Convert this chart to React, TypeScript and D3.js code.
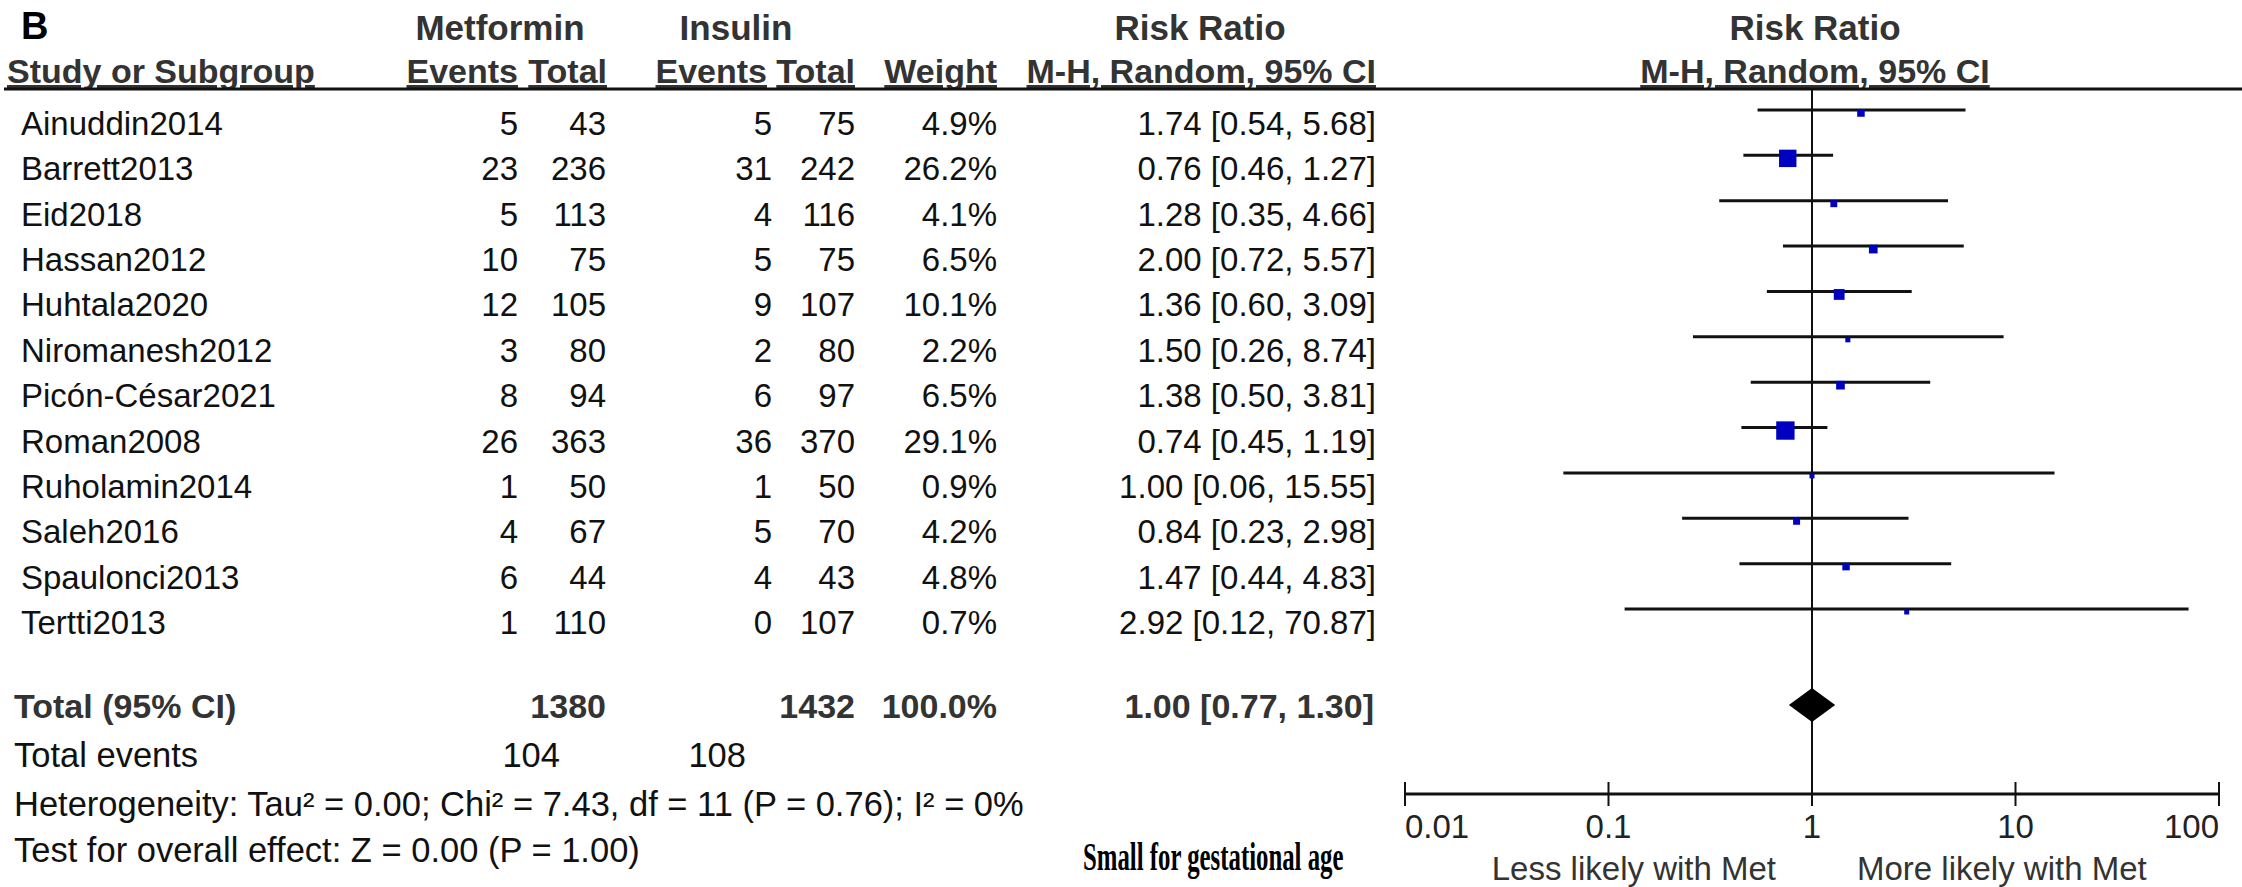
import React from "react";
import * as d3 from "d3";

const studies = ["Ainuddin2014","Barrett2013","Eid2018","Hassan2012","Huhtala2020","Niromanesh2012","Picón-César2021","Roman2008","Ruholamin2014","Saleh2016","Spaulonci2013","Tertti2013"];
const metEvents = [5,23,5,10,12,3,8,26,1,4,6,1];
const metTotal = [43,236,113,75,105,80,94,363,50,67,44,110];
const insEvents = [5,31,4,5,9,2,6,36,1,5,4,0];
const insTotal = [75,242,116,75,107,80,97,370,50,70,43,107];
const weights = [4.9,26.2,4.1,6.5,10.1,2.2,6.5,29.1,0.9,4.2,4.8,0.7];
const rr = [1.74,0.76,1.28,2.0,1.36,1.5,1.38,0.74,1.0,0.84,1.47,2.92];
const lower = [0.54,0.46,0.35,0.72,0.6,0.26,0.5,0.45,0.06,0.23,0.44,0.12];
const upper = [5.68,1.27,4.66,5.57,3.09,8.74,3.81,1.19,15.55,2.98,4.83,70.87];

const totalEst = 1.0, totalLo = 0.77, totalHi = 1.3;
const totalMet = 1380, totalIns = 1432;
const eventsMet = 104, eventsIns = 108;
const tickValues = [0.01, 0.1, 1, 10, 100];
const tickLabels = ["0.01", "0.1", "1", "10", "100"];

const heterogeneity = "Heterogeneity: Tau² = 0.00; Chi² = 7.43, df = 11 (P = 0.76); I² = 0%";
const overall = "Test for overall effect: Z = 0.00 (P = 1.00)";
const caption = "Small for gestational age";

const fmt2 = d3.format(".2f");
const fmtW = d3.format(".1f");

export default function App() {
  const W = 2242, H = 887;
  const x = d3.scaleLog().domain([0.01, 100]).range([1405, 2219]);
  const rowY = d3.scaleLinear().domain([0, studies.length - 1]).range([135, 634]);
  const FS = 33;
  const sans = "'Liberation Sans', Arial, sans-serif";
  const axisY = 794;
  const hlineY = 89;
  const totalY = 718;
  const diamondY = 705;
  const col = { me: 518, mt: 606, ie: 772, it: 855, w: 997, ci: 1376 };
  const hdrColor = "#333";
  const txt = "#111";

  const diamond = d3.line()([
    [x(totalLo), diamondY],
    [x(totalEst), diamondY - 17],
    [x(totalHi), diamondY],
    [x(totalEst), diamondY + 17],
  ]) + "Z";

  const sq = (w: number) => Math.max(5, 3.4 * Math.sqrt(w));

  return (
    <svg width={W} height={H} style={{ position: "absolute", left: 0, top: 0, background: "#fff" }} fontFamily={sans}>
      <rect x={0} y={0} width={W} height={H} fill="#fff" />
      {/* Header */}
      <text x={21} y={39} fontSize={38} fontWeight="bold" fill="#000">B</text>
      <g fontWeight="bold" fill={hdrColor}>
        <g fontSize={35}>
          <text x={500} y={40} textAnchor="middle">Metformin</text>
          <text x={736} y={40} textAnchor="middle">Insulin</text>
          <text x={1200} y={40} textAnchor="middle">Risk Ratio</text>
          <text x={1815} y={40} textAnchor="middle">Risk Ratio</text>
        </g>
        <g fontSize={34} textDecoration="underline">
          <text x={7} y={83}>Study or Subgroup</text>
          <text x={col.me} y={83} textAnchor="end">Events</text>
          <text x={col.mt + 1} y={83} textAnchor="end">Total</text>
          <text x={col.ie - 5} y={83} textAnchor="end">Events</text>
          <text x={col.it} y={83} textAnchor="end">Total</text>
          <text x={col.w} y={83} textAnchor="end">Weight</text>
          <text x={1376} y={83} textAnchor="end">M-H, Random, 95% CI</text>
          <text x={1815} y={83} textAnchor="middle">M-H, Random, 95% CI</text>
        </g>
      </g>
      <line x1={4} x2={W} y1={hlineY} y2={hlineY} stroke="#111" strokeWidth={3} />

      {/* Vertical line of no effect */}
      <line x1={x(1)} x2={x(1)} y1={hlineY} y2={axisY} stroke="#111" strokeWidth={2} />

      {/* Study rows */}
      <g fontSize={FS} fill={txt}>
        {studies.map((s, i) => {
          const y = rowY(i);
          return (
            <g key={s}>
              <text x={21} y={y}>{s}</text>
              <text x={col.me} y={y} textAnchor="end">{metEvents[i]}</text>
              <text x={col.mt} y={y} textAnchor="end">{metTotal[i]}</text>
              <text x={col.ie} y={y} textAnchor="end">{insEvents[i]}</text>
              <text x={col.it} y={y} textAnchor="end">{insTotal[i]}</text>
              <text x={col.w} y={y} textAnchor="end">{fmtW(weights[i])}%</text>
              <text x={col.ci} y={y} textAnchor="end">{`${fmt2(rr[i])} [${fmt2(lower[i])}, ${fmt2(upper[i])}]`}</text>
            </g>
          );
        })}
      </g>
      {studies.map((s, i) => {
        const ly = rowY(i) - 25;
        const size = sq(weights[i]);
        return (
          <g key={"ci" + s}>
            <line x1={x(lower[i])} x2={x(upper[i])} y1={ly} y2={ly} stroke="#111" strokeWidth={3} />
            <rect x={x(rr[i]) - size / 2} y={ly + 3 - size / 2} width={size} height={size} fill="#0000c0" />
          </g>
        );
      })}

      {/* Totals */}
      <g fontSize={34} fontWeight="bold" fill={hdrColor}>
        <text x={14} y={totalY}>Total (95% CI)</text>
        <text x={col.mt} y={totalY} textAnchor="end">{totalMet}</text>
        <text x={col.it} y={totalY} textAnchor="end">{totalIns}</text>
        <text x={col.w} y={totalY} textAnchor="end">100.0%</text>
        <text x={1374} y={totalY} textAnchor="end">{`${fmt2(totalEst)} [${fmt2(totalLo)}, ${fmt2(totalHi)}]`}</text>
      </g>
      <path d={diamond} fill="#000" />

      <g fontSize={34.5} fill={txt}>
        <text x={14} y={767}>Total events</text>
        <text x={560} y={767} textAnchor="end">{eventsMet}</text>
        <text x={746} y={767} textAnchor="end">{eventsIns}</text>
        <text x={14} y={816}>{heterogeneity}</text>
        <text x={14} y={862}>{overall}</text>
      </g>
      <g transform="translate(1083,870) scale(0.62,1)">
        <text x={0} y={0} fontFamily="'Liberation Serif', 'Times New Roman', serif" fontWeight="bold" fontSize={40} fill="#000">{caption}</text>
      </g>

      {/* Axis */}
      <line x1={x(0.01)} x2={x(100)} y1={axisY} y2={axisY} stroke="#111" strokeWidth={3} />
      {tickValues.map((t, i) => (
        <g key={"t" + t}>
          <line x1={x(t)} x2={x(t)} y1={axisY - 12} y2={axisY + 12} stroke="#111" strokeWidth={2} />
          <text
            x={x(t)}
            y={838}
            fontSize={FS}
            fill="#222"
            textAnchor={i === 0 ? "start" : i === tickValues.length - 1 ? "end" : "middle"}
          >
            {tickLabels[i]}
          </text>
        </g>
      ))}
      <text x={x(1) - 36} y={880} fontSize={FS} fill="#333" textAnchor="end">Less likely with Met</text>
      <text x={x(1) + 45} y={880} fontSize={FS} fill="#333" textAnchor="start">More likely with Met</text>
    </svg>
  );
}
